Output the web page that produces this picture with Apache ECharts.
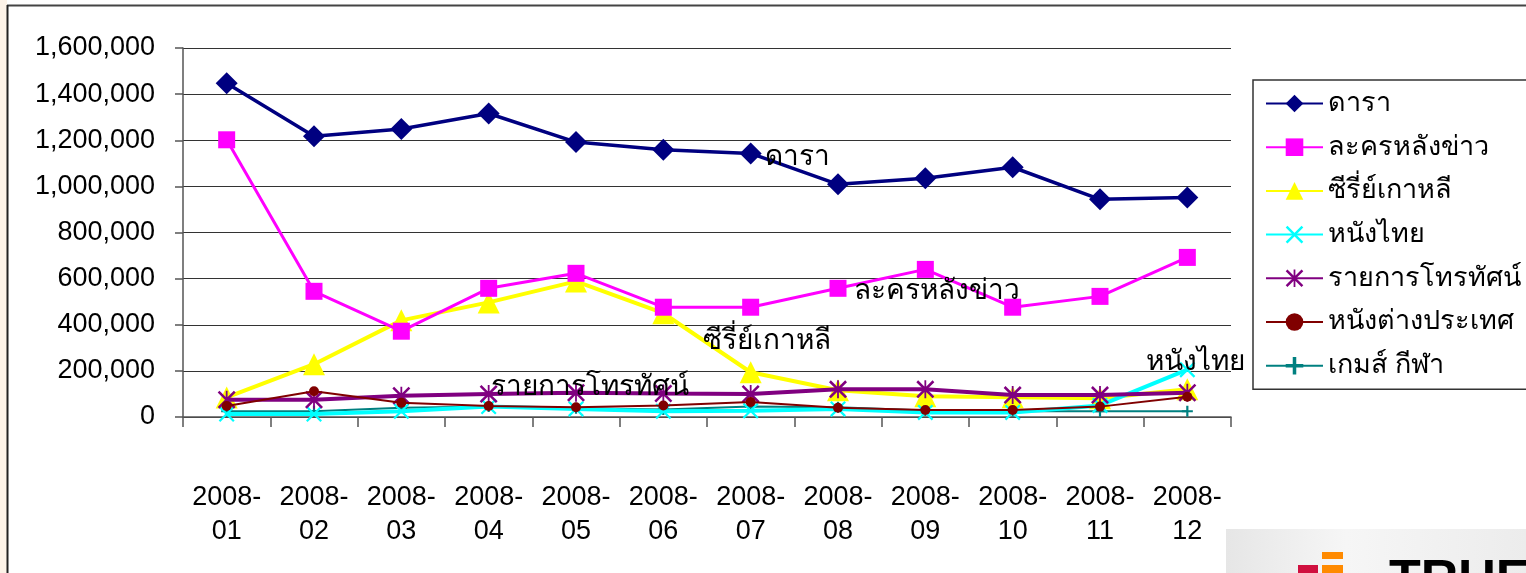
<!DOCTYPE html>
<html>
<head>
<meta charset="utf-8">
<script src="https://cdn.jsdelivr.net/npm/echarts@6/dist/echarts.min.js"></script>
<style>
html,body{margin:0;padding:0;background:#fff;}
#c{width:1526px;height:573px;}
</style>
</head>
<body>
<div id="c"></div>
<script>
const categories = ['2008-\n01','2008-\n02','2008-\n03','2008-\n04','2008-\n05','2008-\n06','2008-\n07','2008-\n08','2008-\n09','2008-\n10','2008-\n11','2008-\n12'];
const seriesNames = ['ดารา','ละครหลังข่าว','ซีรี่ย์เกาหลี','หนังไทย','รายการโทรทัศน์','หนังต่างประเทศ','เกมส์ กีฬา'];
const dara      = [1447000,1217000,1249000,1316000,1192000,1159000,1143000,1009000,1035000,1083000,944000,952000];
const lakorn    = [1202000,545000,372000,558000,623000,476000,476000,558000,640000,476000,523000,692000];
const korean    = [85000,229000,419000,497000,588000,450000,194000,116000,90000,86000,81000,120000];
const thaiMovie = [13000,13000,25000,45000,35000,25000,27000,35000,20000,20000,50000,205000];
const tvProgram = [75000,75000,92000,100000,105000,102000,100000,120000,120000,95000,95000,105000];
const foreignMv = [48000,112000,62000,48000,42000,50000,65000,40000,30000,30000,45000,88000];
const sports    = [25000,25000,40000,45000,38000,32000,45000,42000,28000,25000,25000,25000];
const yTicks = [0,200000,400000,600000,800000,1000000,1200000,1400000,1600000];

const FONT = "'Liberation Sans', Arial, 'Noto Sans', sans-serif";
const XPATH = 'path://M0,1 L1,0 L10,9 L9,10 Z M9,0 L10,1 L1,10 L0,9 Z';
const STARPATH = 'path://M0,1 L1,0 L10,9 L9,10 Z M9,0 L10,1 L1,10 L0,9 Z M4.5,0 L5.5,0 L5.5,10 L4.5,10 Z';
const PLUSPATH = 'path://M4,0 L6,0 L6,10 L4,10 Z M0,4 L10,4 L10,6 L0,6 Z';

// point labels: [series index] -> {idx, offset}
const labelSpec = {
  0: {idx: 6, off: [47, 4]},
  1: {idx: 8, off: [12, 22]},
  2: {idx: 6, off: [16, -31]},
  3: {idx: 11, off: [8, -7]},
  4: {idx: 4, off: [14, -6]}
};
function withLabel(si, arr) {
  return arr.map((v, i) => {
    const s = labelSpec[si];
    if (s && s.idx === i) {
      return {value: v, label: {show: true, formatter: seriesNames[si], position: 'inside', offset: s.off,
        color: '#000', fontSize: 28, fontFamily: FONT, align: 'center', verticalAlign: 'middle'}};
    }
    return v;
  });
}

const styles = [
  {color: '#000080', symbol: 'diamond', size: 22, width: 3.5},
  {color: '#FF00FF', symbol: 'rect', size: 17, width: 3},
  {color: '#FFFF00', symbol: 'triangle', size: 22, width: 4},
  {color: '#00FFFF', symbol: XPATH, size: 16, width: 4},
  {color: '#800080', symbol: STARPATH, size: 18, width: 4},
  {color: '#800000', symbol: 'circle', size: 10, width: 2},
  {color: '#008080', symbol: PLUSPATH, size: 11, width: 2}
];
const datas = [dara, lakorn, korean, thaiMovie, tvProgram, foreignMv, sports];
const zs = [7, 6, 2, 3, 4, 5, 1];

const series = datas.map((d, i) => ({
  name: seriesNames[i],
  type: 'line',
  data: withLabel(i, d),
  symbol: styles[i].symbol,
  symbolSize: styles[i].size,
  z: zs[i],
  lineStyle: {color: styles[i].color, width: styles[i].width},
  itemStyle: {color: styles[i].color, borderWidth: 0},
  emphasis: {disabled: true},
  animation: false,
  label: {show: false}
}));

const chart = echarts.init(document.getElementById('c'), null, {renderer: 'canvas'});
chart.setOption({
  animation: false,
  backgroundColor: '#fff',
  textStyle: {fontFamily: FONT},
  graphic: [
    {type: 'rect', shape: {x: 0, y: 0, width: 7, height: 573}, style: {fill: '#FDF3E8'}, z: -1},
    {type: 'line', shape: {x1: 7, y1: 5.5, x2: 1526, y2: 5.5}, style: {stroke: '#444', lineWidth: 2}},
    {type: 'line', shape: {x1: 7.5, y1: 5, x2: 7.5, y2: 573}, style: {stroke: '#222', lineWidth: 2}},
    {type: 'rect', shape: {x: 1226, y: 529, width: 300, height: 44},
      style: {fill: new echarts.graphic.LinearGradient(0, 0, 1, 0, [{offset: 0, color: '#e6e6e6'}, {offset: 0.4, color: '#f6f6f6'}, {offset: 1, color: '#ececec'}])}},
    {type: 'rect', shape: {x: 1298, y: 565, width: 20, height: 8}, style: {fill: '#D0103F'}},
    {type: 'rect', shape: {x: 1322, y: 552, width: 21, height: 7}, style: {fill: '#FF8A00'}},
    {type: 'rect', shape: {x: 1322, y: 565, width: 21, height: 8}, style: {fill: '#FF8A00'}},
    {type: 'text', x: 1389, y: 556, style: {text: 'TRUE', fill: '#000', font: "bold 52px 'Liberation Sans', Arial, sans-serif", textVerticalAlign: 'top'}}
  ],
  legend: {
    orient: 'vertical',
    left: 1253,
    top: 80,
    padding: [10, 30, 10, 12],
    itemGap: 16.7,
    itemWidth: 57,
    itemHeight: 22,
    borderColor: '#333',
    borderWidth: 1.5,
    backgroundColor: '#fff',
    textStyle: {fontSize: 27, lineHeight: 27, color: '#000', fontFamily: FONT},
    data: seriesNames
  },
  grid: {left: 183, right: 295, top: 48, bottom: 156, containLabel: false},
  xAxis: {
    type: 'category',
    data: categories,
    boundaryGap: true,
    axisLine: {lineStyle: {color: '#555', width: 1.5}},
    axisTick: {show: true, length: 10, lineStyle: {color: '#555', width: 1.5}},
    axisLabel: {color: '#000', fontSize: 27, lineHeight: 34, margin: 64, fontFamily: FONT, interval: 0},
    splitLine: {show: false}
  },
  yAxis: {
    type: 'value',
    min: 0,
    max: 1600000,
    interval: 200000,
    axisLine: {show: true, lineStyle: {color: '#555', width: 1.5}},
    axisTick: {show: true, length: 8, lineStyle: {color: '#555', width: 1.5}},
    axisLabel: {color: '#000', fontSize: 27, margin: 28, fontFamily: FONT,
      formatter: v => yTicks.indexOf(v) >= 0 ? v.toLocaleString('en-US') : ''},
    splitLine: {show: true, lineStyle: {color: '#333', width: 1}}
  },
  series: series
});
</script>
</body>
</html>
